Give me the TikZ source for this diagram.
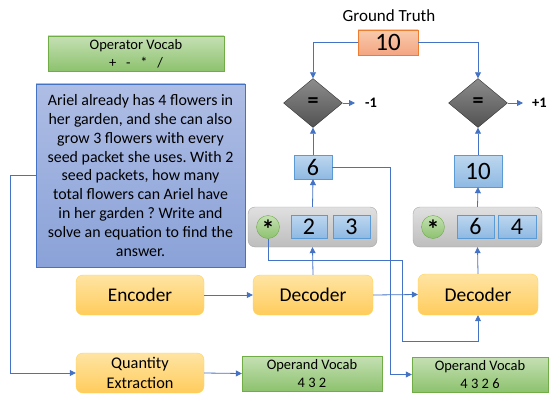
\documentclass[tikz,border=0pt]{standalone}
\usepackage{fontspec}
\setmainfont{Carlito}
\usetikzlibrary{shapes.geometric,arrows.meta,calc,shadings}
\definecolor{lnblue}{HTML}{4472C4}
\definecolor{grnA}{HTML}{C5E0B4}
\definecolor{grnB}{HTML}{8DC26E}
\definecolor{grnE}{HTML}{70AD47}
\definecolor{orA}{HTML}{F8CBAD}
\definecolor{orB}{HTML}{F4A582}
\definecolor{orE}{HTML}{ED7D31}
\definecolor{blA}{HTML}{BDD7EE}
\definecolor{blB}{HTML}{8FB9E3}
\definecolor{blE}{HTML}{5B9BD5}
\definecolor{ylA}{HTML}{FFE4A3}
\definecolor{ylB}{HTML}{FFCC5C}
\definecolor{ylE}{HTML}{FFC000}
\definecolor{gyA}{HTML}{E0E0E0}
\definecolor{gyB}{HTML}{BDBDBD}
\definecolor{gyE}{HTML}{A6A6A6}
\definecolor{pbA}{HTML}{AEBDE4}
\definecolor{pbB}{HTML}{8AA2D8}
\tikzset{
  arr/.style={draw=lnblue, line width=0.8pt, -{Triangle[length=6pt,width=6pt]}},
  greenbox/.style={draw=grnE, top color=grnA, bottom color=grnB, inner sep=0pt, align=center, font=\fontsize{14.5}{18}\selectfont},
  numbox/.style={draw=blE, top color=blA, bottom color=blB, inner sep=0pt, font=\fontsize{24}{26}\selectfont},
  yellowbox/.style={draw=ylE!70, top color=ylA, bottom color=ylB, rounded corners=7pt, inner sep=0pt, minimum width=128pt, minimum height=40pt, align=center},
  greybox/.style={draw=gyE, top color=gyA, bottom color=gyB, rounded corners=7pt, inner sep=0pt, minimum width=129pt, minimum height=40pt},
  opcircle/.style={circle, draw=grnE, top color=grnA, bottom color=grnB, minimum size=23pt, inner sep=0pt},
  eqdiamond/.style={diamond, draw=black!80, top color=black!45, bottom color=black!68, minimum width=59pt, minimum height=49pt, inner sep=0pt, font=\fontsize{22}{22}\selectfont\bfseries},
}
\begin{document}
\frenchspacing
\begin{tikzpicture}[x=1pt,y=-1pt]
\useasboundingbox (0,0) rectangle (549,396);
% Ground truth
\node[font=\fontsize{17}{19}\selectfont] (gtl) at (389,16) {Ground Truth};
\node[draw=orE, top color=orA, bottom color=orB, minimum width=60pt, minimum height=25pt, inner sep=0pt, font=\fontsize{25}{26}\selectfont] (gt) at (388,42.5) {10};
% diamonds
\node[eqdiamond] (d1) at (313,103) {=};
\node[eqdiamond] (d2) at (478,103) {=};
\coordinate (m1) at (355,103);
\coordinate (p1) at (523,103);
\node[anchor=west, inner sep=0pt, font=\fontsize{14.5}{16}\selectfont\bfseries] (lm1) at (365,103) {-1};
\node[anchor=west, inner sep=0pt, font=\fontsize{14.5}{16}\selectfont\bfseries] (lp1) at (532,103) {+1};
\draw[arr] (d1.east) -- (m1);
\draw[arr] (d2.east) -- (p1);
\draw[arr] (gt.west) -| (d1.north);
\draw[arr] (gt.east) -| (d2.north);
% result boxes
\node[numbox, minimum width=38pt, minimum height=24pt] (six) at (313,167) {6};
\node[numbox, minimum width=48pt, minimum height=32pt, font=\fontsize{25}{26}\selectfont] (ten) at (478,171) {10};
\draw[arr] (six.north) -- (d1.south);
\draw[arr] (ten.north) -- (d2.south);
% grey boxes
\node[greybox] (g1) at (312.5,227) {};
\node[opcircle] (st1) at (268,227) {};
\node[font=\fontsize{26}{26}\selectfont\bfseries, inner sep=0pt] (as1) at (268,229) {*};
\node[numbox, minimum width=36pt, minimum height=23pt] (n2) at (309,226.5) {2};
\node[numbox, minimum width=37pt, minimum height=23pt] (n3) at (351.5,226.5) {3};
\node[greybox] (g2) at (477.5,227) {};
\node[opcircle] (st2) at (433,227) {};
\node[font=\fontsize{26}{26}\selectfont\bfseries, inner sep=0pt] (as2) at (433,229) {*};
\node[numbox, minimum width=37pt, minimum height=23pt] (n6) at (475.5,226.5) {6};
\node[numbox, minimum width=38pt, minimum height=23pt] (n4) at (517,226.5) {4};
\draw[arr] (g1.north) -- (six.south);
\draw[arr] (g2.north) -- (ten.south);
% problem & vocab
\node[greenbox, minimum width=176pt, minimum height=35pt] (opv) at (136,53.5) {Operator Vocab\\+\ \ \ -\ \ \ *\ \ \ /};
\node[draw=lnblue, top color=pbA, bottom color=pbB, minimum width=209pt, minimum height=183pt, inner sep=0pt, align=center, font=\fontsize{15.9}{18.9}\selectfont] (prob) at (140.5,175.5) {Ariel already has 4 flowers in\\her garden, and she can also\\grow 3 flowers with every\\seed packet she uses. With 2\\seed packets, how many\\total flowers can Ariel have\\in her garden ? Write and\\solve an equation to find the\\answer.};
% encoder / decoders
\node[yellowbox, font=\fontsize{19.3}{21}\selectfont] (enc) at (140,295) {Encoder};
\node[yellowbox, minimum width=120pt, font=\fontsize{19.5}{21}\selectfont] (dec1) at (313,295) {Decoder};
\node[yellowbox, minimum width=120pt, minimum height=41pt, font=\fontsize{19.5}{21}\selectfont] (dec2) at (478,294.5) {Decoder};
\node[yellowbox, font=\fontsize{16.3}{20}\selectfont] (qe) at (140,373) {Quantity\\Extraction};
\node[greenbox, minimum width=140pt, minimum height=35pt] (ov1) at (312,373.5) {Operand Vocab\\4 3 2};
\node[greenbox, minimum width=136pt, minimum height=35pt] (ov2) at (480,374.5) {Operand Vocab\\4 3 2 6};
% connectors
\draw[arr] (enc.east) -- (dec1.west);
\draw[arr] (dec1.east) -- (dec2.west);
\draw[arr] (dec1.north) -- (g1.south);
\draw[arr] (dec2.north) -- (g2.south);
\draw[arr] (qe.east) -- (ov1.west);
\draw[arr] (prob.west) -- ++(-25,0) |- (qe.west);
\coordinate (k1) at (402,260);
\coordinate (k2) at (478,341);
\draw[arr] (st1.south) |- (k1) |- (k2) -- (dec2.south);
\coordinate (k3) at (390,374.5);
\draw[arr] (six.east) -| (k3) -- (ov2.west);
\end{tikzpicture}
\end{document}
